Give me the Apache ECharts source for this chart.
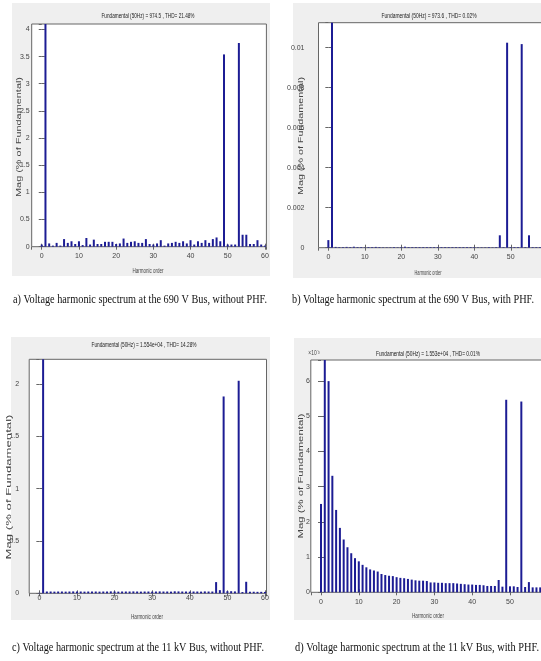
<!DOCTYPE html>
<html><head><meta charset="utf-8">
<script src="https://cdn.jsdelivr.net/npm/echarts@6/dist/echarts.min.js"></script>
<style>html,body{margin:0;padding:0;background:#fff;overflow:hidden;width:541px;height:661px}#c{width:600px;height:661px}</style>
</head><body><div id="c"></div>
<script>
// ---------------- data ----------------
const harmonics = [0,1,2,3,4,5,6,7,8,9,10,11,12,13,14,15,16,17,18,19,20,21,22,23,24,25,26,27,28,29,30,31,32,33,34,35,36,37,38,39,40,41,42,43,44,45,46,47,48,49,50,51,52,53,54,55,56,57,58,59,60];

// a) 690 V bus, without PHF (% of fundamental)
const magA = [0.04,100,0.06,0.02,0.07,0.02,0.14,0.07,0.10,0.05,0.10,0.03,0.16,0.04,0.13,0.05,0.05,0.09,0.09,0.09,0.05,0.06,0.15,0.07,0.09,0.10,0.07,0.07,0.14,0.05,0.04,0.06,0.12,0.02,0.06,0.07,0.09,0.07,0.10,0.06,0.12,0.04,0.10,0.07,0.12,0.07,0.14,0.17,0.10,3.54,0.04,0.04,0.04,3.75,0.22,0.22,0.05,0.05,0.12,0.04,0.02];

// b) 690 V bus, with PHF
const magB = [0.00038,100,0.00004,0.00003,0.00003,0.00004,0.00003,0.00005,0.00003,0.00003,0.00002,0.00003,0.00003,0.00004,0.00003,0.00002,0.00002,0.00002,0.00003,0.00002,0.00003,0.00005,0.00003,0.00003,0.00003,0.00003,0.00003,0.00003,0.00003,0.00003,0.00003,0.00003,0.00003,0.00003,0.00003,0.00003,0.00003,0.00003,0.00003,0.00003,0.00003,0.00002,0.00002,0.00002,0.00003,0.00002,0.00003,0.00062,0.00003,0.01025,0.00003,0.00003,0.00003,0.01018,0.00003,0.00062,0.00003,0.00003,0.00003,0.00003,0.00003];

// c) 11 kV bus, without PHF
const magC = [0.004,100,0.017,0.017,0.016,0.017,0.017,0.016,0.017,0.018,0.017,0.017,0.016,0.017,0.017,0.017,0.016,0.017,0.017,0.018,0.017,0.016,0.017,0.017,0.017,0.018,0.017,0.016,0.017,0.017,0.016,0.017,0.018,0.017,0.017,0.016,0.019,0.018,0.017,0.017,0.016,0.017,0.017,0.016,0.018,0.017,0.017,0.107,0.030,1.88,0.020,0.020,0.018,2.03,0.012,0.110,0.015,0.015,0.014,0.014,0.013];

// d) 11 kV bus, with PHF
const magD = [2.51e-3,100,6.00e-3,3.31e-3,2.34e-3,1.83e-3,1.50e-3,1.28e-3,1.11e-3,0.97e-3,0.88e-3,0.78e-3,0.71e-3,0.65e-3,0.62e-3,0.59e-3,0.52e-3,0.49e-3,0.47e-3,0.46e-3,0.43e-3,0.41e-3,0.40e-3,0.38e-3,0.36e-3,0.34e-3,0.33e-3,0.33e-3,0.32e-3,0.28e-3,0.28e-3,0.27e-3,0.27e-3,0.26e-3,0.26e-3,0.26e-3,0.25e-3,0.24e-3,0.23e-3,0.22e-3,0.22e-3,0.21e-3,0.21e-3,0.20e-3,0.18e-3,0.18e-3,0.18e-3,0.35e-3,0.16e-3,5.47e-3,0.17e-3,0.17e-3,0.15e-3,5.42e-3,0.15e-3,0.29e-3,0.14e-3,0.14e-3,0.14e-3,0.14e-3,0.14e-3];

const titles = [
  'Fundamental (50Hz) = 974.5 , THD= 21.48%',
  'Fundamental (50Hz) = 973.6 , THD= 0.02%',
  'Fundamental (50Hz) = 1.554e+04 , THD= 14.28%',
  'Fundamental (50Hz) = 1.553e+04 , THD= 0.01%'
];
const captions = [
  'a) Voltage harmonic spectrum at the 690 V Bus, without PHF.',
  'b) Voltage harmonic spectrum at the 690 V Bus, with PHF.',
  'c) Voltage harmonic spectrum at the 11 kV Bus, without PHF.',
  'd) Voltage harmonic spectrum at the 11 kV Bus, with PHF.'
];
const xName = 'Harmonic order';
const yName = 'Mag (% of Fundamental)';

// ---------------- layout ----------------
const panels = [
  {data: magA, grid:[31.7,24,234.7,222.7], yMax:4.1, yInt:0.5, ym:2, xm:6,
   bg:[12,3,258,273], title:[148,16,93], xn:[148,270.7,31], yn:[19.5,137,120], cap:[140,300,254]},
  {data: magB, grid:[318.5,22.7,230.2,225], yMax:0.01125, yInt:0.002, ym:14, xm:6,
   bg:[293,3,300,275], title:[429,16,95], xn:[428,273,27], yn:[301.7,136,118], cap:[413,300,242]},
  {data: magC, grid:[29.2,359.3,237.3,234], yMax:2.235, yInt:0.5, ym:10, xm:1,
   bg:[11,337,259,283], title:[144,345,105], xn:[147,617,32], yn:[9.5,487,145], cap:[138,648,252]},
  {data: magD, grid:[310.8,360,238.5,232.3], yMax:6.6e-3, yInt:1e-3, ym:1, xm:6,
   bg:[294,338,300,282], title:[428,354,104], xn:[428,616,32], yn:[301.7,476,125], cap:[417,648,244],
   yFmt: v => String(Math.round(v*1000))}
];

const ctx = document.createElement('canvas').getContext('2d');
function measure(text, font){ ctx.font = font; return ctx.measureText(text).width; }

const SANS = '"Liberation Sans", Arial, sans-serif';
const SERIF = '"Liberation Serif", "Times New Roman", serif';
const barColor = '#1c1c94';
const axisCol = '#666';
const labelCol = '#444';

const grids=[], xAxes=[], yAxes=[], series=[], graphics=[];
panels.forEach((p,i)=>{
  graphics.push({type:'rect', z:-10, silent:true, shape:{x:p.bg[0],y:p.bg[1],width:p.bg[2],height:p.bg[3]}, style:{fill:'#efefef'}});
  grids.push({left:p.grid[0], top:p.grid[1], width:p.grid[2], height:p.grid[3], show:true,
    backgroundColor:'#fff', borderColor:axisCol, borderWidth:1});
  const tick = {show:true, inside:true, length:3, lineStyle:{color:axisCol, width:1}};
  const xc = {type:'value', gridIndex:i, min:-2.7, max:60.4, splitLine:{show:false}, axisLine:{show:false}, axisTick:tick};
  xAxes.push(Object.assign({}, xc, {position:'bottom',
    axisLabel:{fontSize:7, color:labelCol, margin:p.xm, fontFamily:SANS, showMinLabel:false, showMaxLabel:false}}));
  xAxes.push(Object.assign({}, xc, {position:'top', axisLabel:{show:false}}));
  const yc = {type:'value', gridIndex:i, min:0, max:p.yMax, interval:p.yInt, splitLine:{show:false}, axisLine:{show:false}, axisTick:tick};
  const yl = {fontSize:7, color:labelCol, margin:p.ym, fontFamily:SANS, showMaxLabel:false};
  if (p.yFmt) yl.formatter = p.yFmt;
  yAxes.push(Object.assign({}, yc, {position:'left', axisLabel:yl}));
  yAxes.push(Object.assign({}, yc, {position:'right', axisLabel:{show:false}}));
  series.push({type:'bar', xAxisIndex:2*i, yAxisIndex:2*i, barWidth:2, clip:true, silent:true,
    itemStyle:{color:barColor}, data: harmonics.map((h,j)=>[h, p.data[j]])});

  const tf = '8px ' + SANS;
  graphics.push({type:'text', z:10, silent:true, x:p.title[0], y:p.title[1],
    scaleX: p.title[2]/measure(titles[i], tf),
    style:{text:titles[i], font:tf, fill:'#222', align:'center', verticalAlign:'middle'}});
  graphics.push({type:'text', z:10, silent:true, x:p.xn[0], y:p.xn[1],
    scaleX: p.xn[2]/measure(xName, tf),
    style:{text:xName, font:tf, fill:'#444', align:'center', verticalAlign:'middle'}});
  const yf = '10px ' + SANS;
  graphics.push({type:'text', z:10, silent:true, x:p.yn[0], y:p.yn[1], rotation:Math.PI/2,
    scaleX: p.yn[2]/measure(yName, yf), scaleY:0.65,
    style:{text:yName, font:yf, fill:'#444', align:'center', verticalAlign:'middle'}});
  const cf = '13px ' + SERIF;
  graphics.push({type:'text', z:10, silent:true, x:p.cap[0], y:p.cap[1],
    scaleX: p.cap[2]/measure(captions[i], cf),
    style:{text:captions[i], font:cf, fill:'#111', align:'center', verticalAlign:'middle'}});
});
const expText = '\u00d710\u207b\u00b3';
graphics.push({type:'text', z:10, silent:true, x:314, y:353, scaleX:0.7,
  style:{text:expText, font:'7px ' + SANS, fill:'#444', align:'center', verticalAlign:'middle'}});

const chart = echarts.init(document.getElementById('c'), null, {renderer:'canvas'});
chart.setOption({
  animation:false, backgroundColor:'#fff',
  grid:grids, xAxis:xAxes, yAxis:yAxes, series:series, graphic:graphics
});
</script></body></html>
